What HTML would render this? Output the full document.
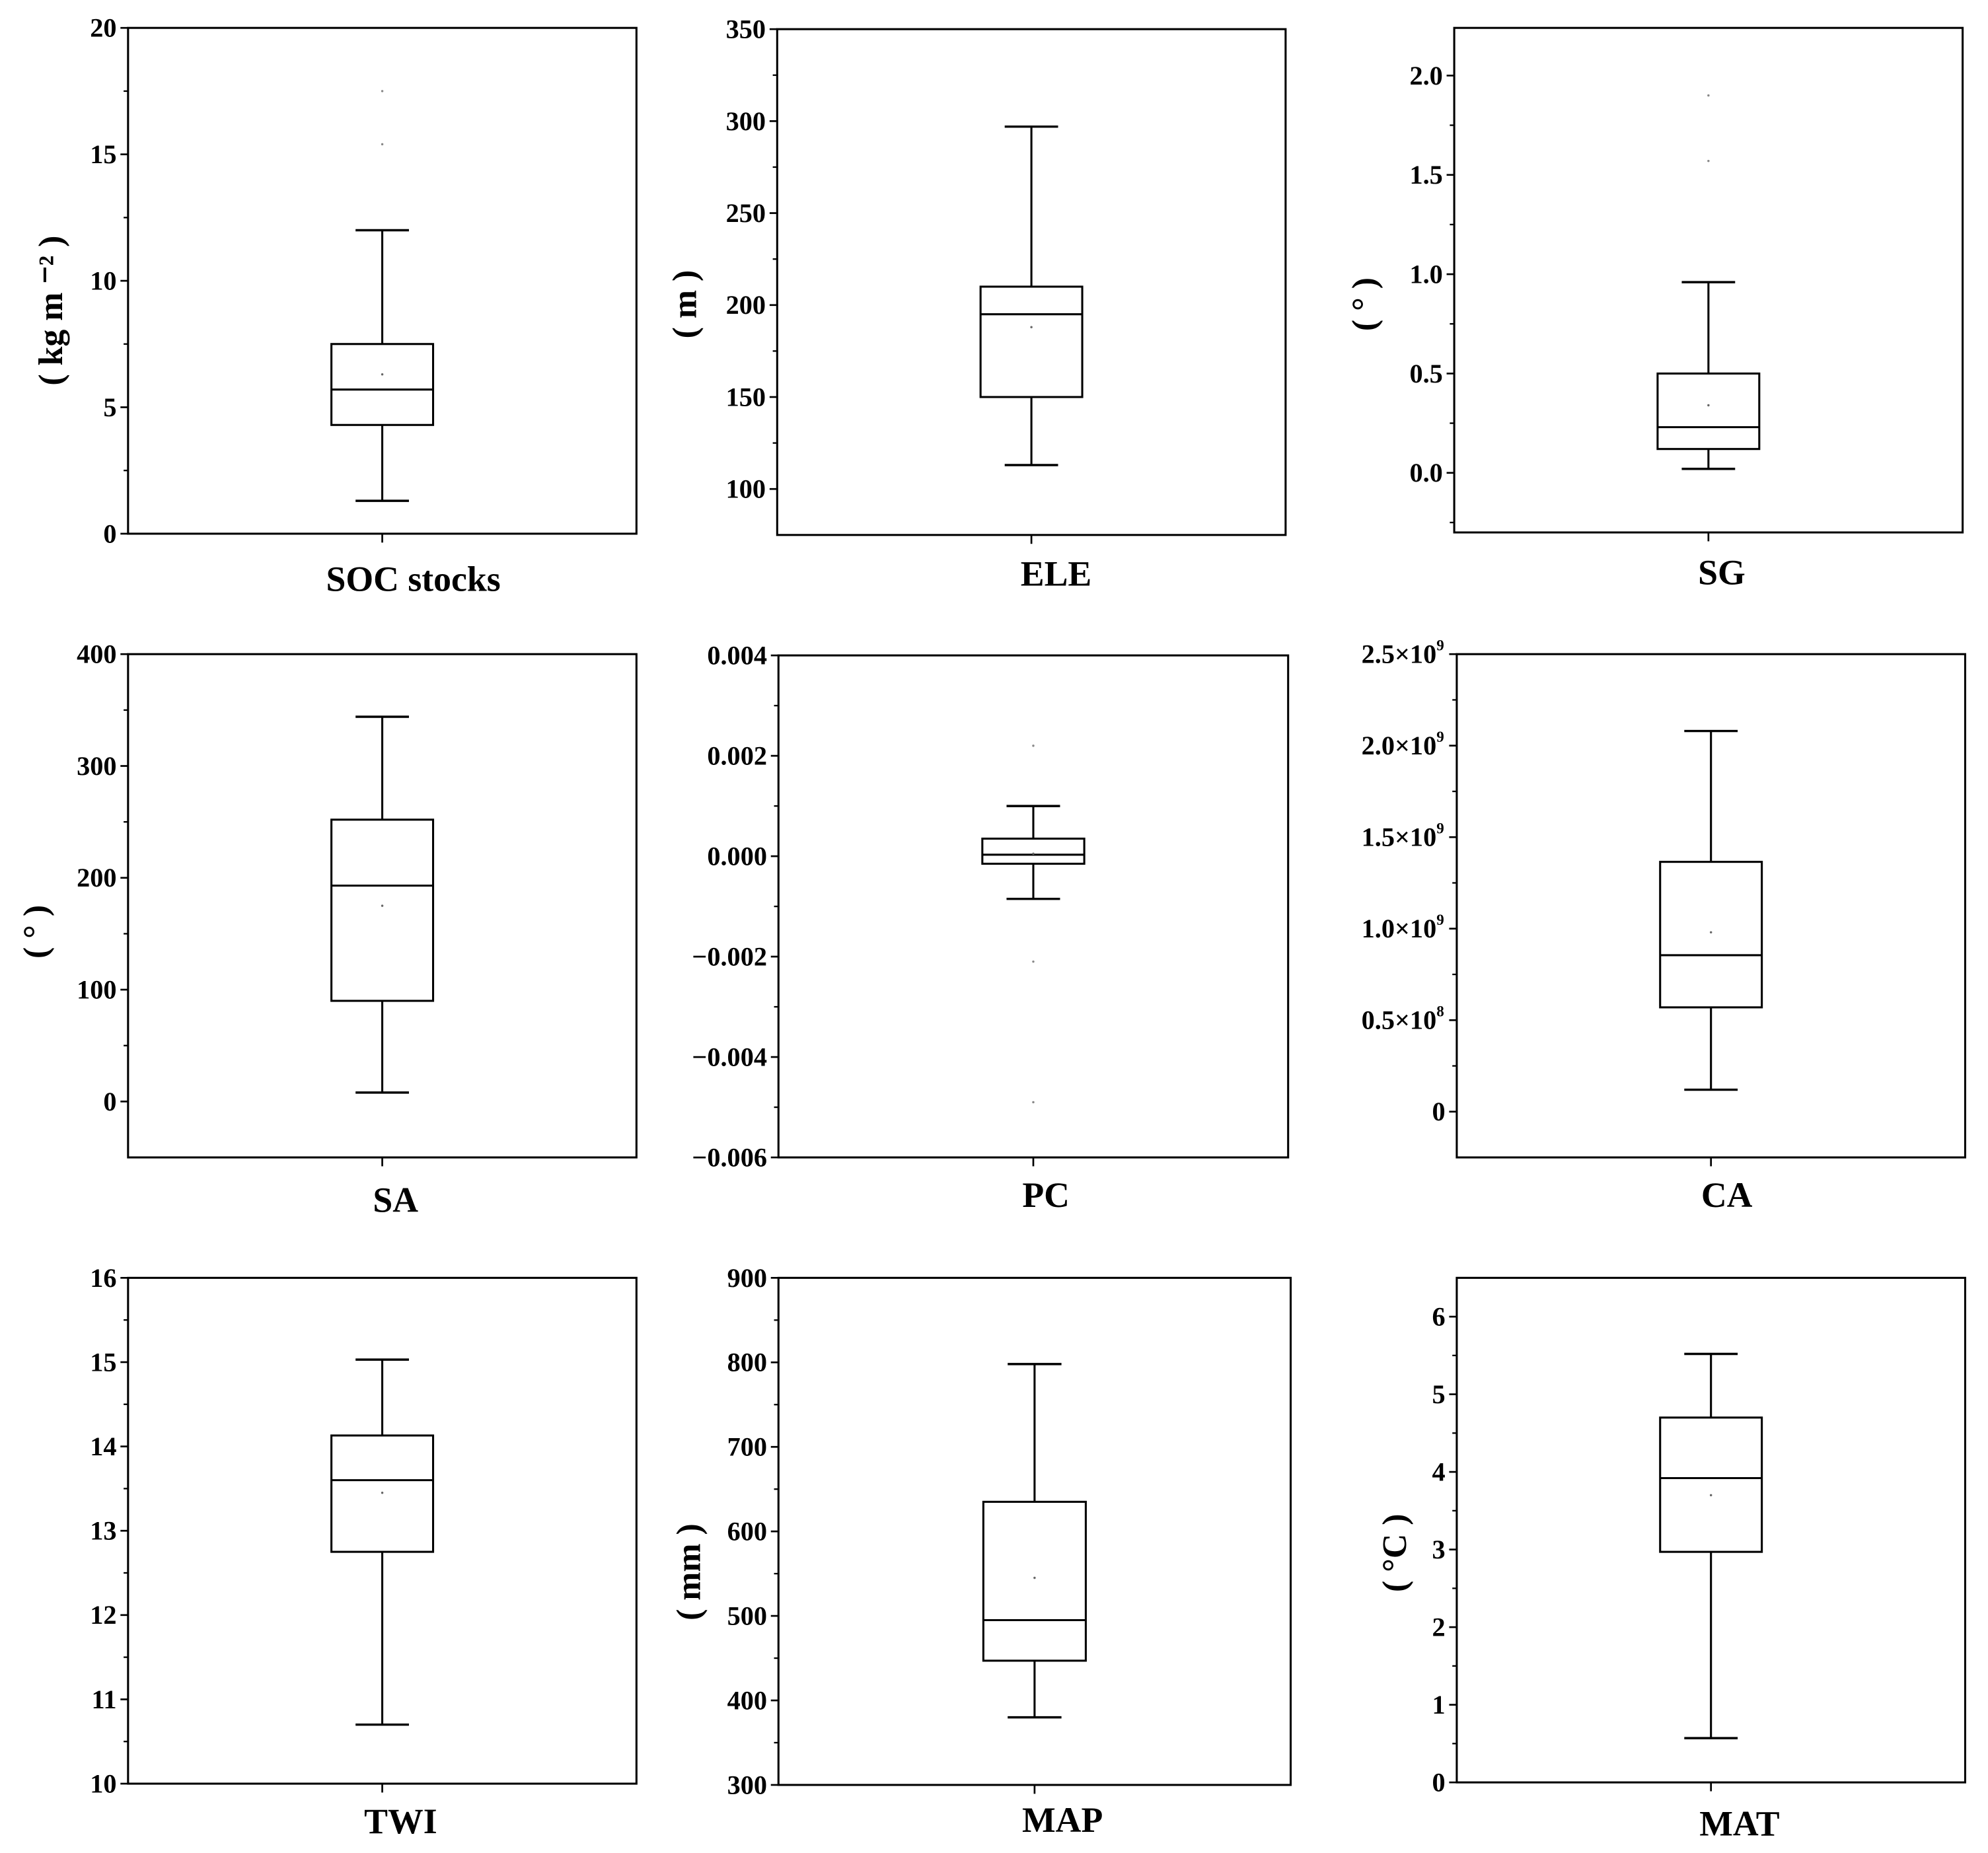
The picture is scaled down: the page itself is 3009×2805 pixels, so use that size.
<!DOCTYPE html>
<html><head><meta charset="utf-8">
<style>
html,body{margin:0;padding:0;background:#fff;}
svg{display:block;}
text{font-family:"Liberation Serif",serif;font-weight:bold;fill:#000;}
</style></head>
<body>
<svg id="chart" width="3009" height="2805" viewBox="0 0 3009 2805" xmlns="http://www.w3.org/2000/svg">
<rect width="3009" height="2805" fill="#fff"/>
<g id="root" transform="scale(1.919)"></g>
</svg>
<script>
// ---- data ----
const categories = ["SOC stocks","ELE","SG","SA","PC","CA","TWI","MAP","MAT"];
const yUnits = ["( kg m \u207B\u00B2 )","( m )","( \u00B0 )","( \u00B0 )","","","","( mm )","( \u00B0C )"];
const yMin = [0,75,-0.3,-50,-0.006,-0.25e9,10,300,0];
const yMax = [20,350,2.24,400,0.004,2.5e9,16,900,6.5];
const tickValues = [
 [0,5,10,15,20],[100,150,200,250,300,350],[0,0.5,1,1.5,2],[0,100,200,300,400],
 [-0.006,-0.004,-0.002,0,0.002,0.004],[0,0.5e9,1e9,1.5e9,2e9,2.5e9],
 [10,11,12,13,14,15,16],[300,400,500,600,700,800,900],[0,1,2,3,4,5,6]];
const tickLabels = [
 ["0","5","10","15","20"],["100","150","200","250","300","350"],["0.0","0.5","1.0","1.5","2.0"],
 ["0","100","200","300","400"],["-0.006","-0.004","-0.002","0.000","0.002","0.004"],
 ["0","0.5\u00D710|8","1.0\u00D710|9","1.5\u00D710|9","2.0\u00D710|9","2.5\u00D710|9"],
 ["10","11","12","13","14","15","16"],["300","400","500","600","700","800","900"],
 ["0","1","2","3","4","5","6"]];
const whiskerLow = [1.3,113,0.02,8,-0.00085,0.12e9,10.7,380,0.57];
const q1 = [4.3,150,0.12,90,-0.00015,0.57e9,12.75,447,2.97];
const median = [5.7,195,0.23,193,0.00003,0.855e9,13.6,495,3.92];
const q3 = [7.5,210,0.5,252,0.00035,1.365e9,14.13,635,4.7];
const whiskerHigh = [12,297,0.96,344,0.001,2.08e9,15.03,798,5.52];
const means = [6.3,188,0.34,175,0.00005,0.98e9,13.45,545,3.7];
const outliers = [[15.4,17.5],[],[1.57,1.9],[],[0.0022,-0.0021,-0.0049],[],[],[],[]];

// layout (display units)
const panelX = [[101,502],[613,1014],[1147,1548],[101,502],[614,1016],[1149,1550],[101,502],[614,1018],[1149,1550]];
const panelY = [[22,421],[23,422],[22,420],[516,913],[517,913],[516,913],[1008,1407],[1008,1408],[1008,1406]];
const xLabelPos = [[326,456],[833,452],[1358,451],[312,946],[825,942],[1362,942],[316,1436],[838,1435],[1372,1438]];
const yLabelPos = [[40,245],[540,240],[1076,240],[28,735],[0,0],[0,0],[0,0],[543,1240],[1100,1225]];

const NS="http://www.w3.org/2000/svg";
const root=document.getElementById('root');
function mk(tag,attrs,parent){const e=document.createElementNS(NS,tag);for(const k in attrs)e.setAttribute(k,attrs[k]);(parent||root).appendChild(e);return e;}
function line(g,x1,y1,x2,y2,w){return mk('line',{x1:x1,y1:y1,x2:x2,y2:y2,stroke:'#000','stroke-width':w||1.6},g);}

categories.forEach((cat,i)=>{
  const [L,R]=panelX[i],[T,B]=panelY[i];
  const g=mk('g',{});
  
  
  const y=v=>B-(v-yMin[i])/(yMax[i]-yMin[i])*(B-T);
  const cx=(L+R)/2, W=R-L;
  const frame=mk('rect',{x:L,y:T,width:W,height:B-T,fill:'none',stroke:'#000','stroke-width':1.6},g);
  
  
  const tv=tickValues[i];
  tv.forEach((v,k)=>{
    const yy=y(v);
    line(g,L-6,yy,L,yy,1.4);
    if(k<tv.length-1){const ym=y((v+tv[k+1])/2);line(g,L-3.5,ym,L,ym,1.2);}
    const parts=tickLabels[i][k].split('|');
    const t=mk('text',{x:L-9,y:yy+7,'text-anchor':'end','font-size':21},g);
    
    
    if(parts.length>1){
      t.textContent=parts[0];
      const s=mk('tspan',{dy:-10,'font-size':12},t);s.textContent=parts[1];
      t.setAttribute('x',L-10);
    } else t.textContent=parts[0].replace('-','\u2212');
  });
  const step=tv[1]-tv[0];
  const below=tv[0]-step/2; if(below>yMin[i]) line(g,L-3.5,y(below),L,y(below),1.2);
  line(g,cx,B,cx,B+7,1.4);
  const bw=W*0.2, cw=W*0.105;
  const wh=mk('line',{x1:cx,y1:y(whiskerLow[i]),x2:cx,y2:y(q1[i]),stroke:'#000','stroke-width':1.6},g);
  
  
  const wh2=mk('line',{x1:cx,y1:y(q3[i]),x2:cx,y2:y(whiskerHigh[i]),stroke:'#000','stroke-width':1.6},g);
  
  
  line(g,cx-cw/2,y(whiskerLow[i]),cx+cw/2,y(whiskerLow[i]),1.8);
  line(g,cx-cw/2,y(whiskerHigh[i]),cx+cw/2,y(whiskerHigh[i]),1.8);
  const box=mk('rect',{x:cx-bw/2,y:y(q3[i]),width:bw,height:y(q1[i])-y(q3[i]),fill:'none',stroke:'#000','stroke-width':1.6},g);
  
  
  const md=mk('line',{x1:cx-bw/2,y1:y(median[i]),x2:cx+bw/2,y2:y(median[i]),stroke:'#000','stroke-width':1.6},g);
  
  
  const mn=mk('circle',{cx:cx,cy:y(means[i]),r:0.9,fill:'#666'},g);
  
  
  outliers[i].forEach(o=>{
    const c=mk('circle',{cx:cx,cy:y(o),r:0.9,fill:'#888'},g);
    
    
  });
  const xl=mk('text',{x:xLabelPos[i][0],y:xLabelPos[i][1]+10,'text-anchor':'middle','font-size':28},g);
  
  
  xl.textContent=cat;
  if(yUnits[i]){
    const [lx,ly]=yLabelPos[i];
    const yl=mk('text',{x:lx,y:ly,'text-anchor':'middle','font-size':27,transform:`rotate(-90 ${lx} ${ly}) translate(0 9)`},g);
    
    
    yl.textContent=yUnits[i];
  }
});
</script>
</body></html>
